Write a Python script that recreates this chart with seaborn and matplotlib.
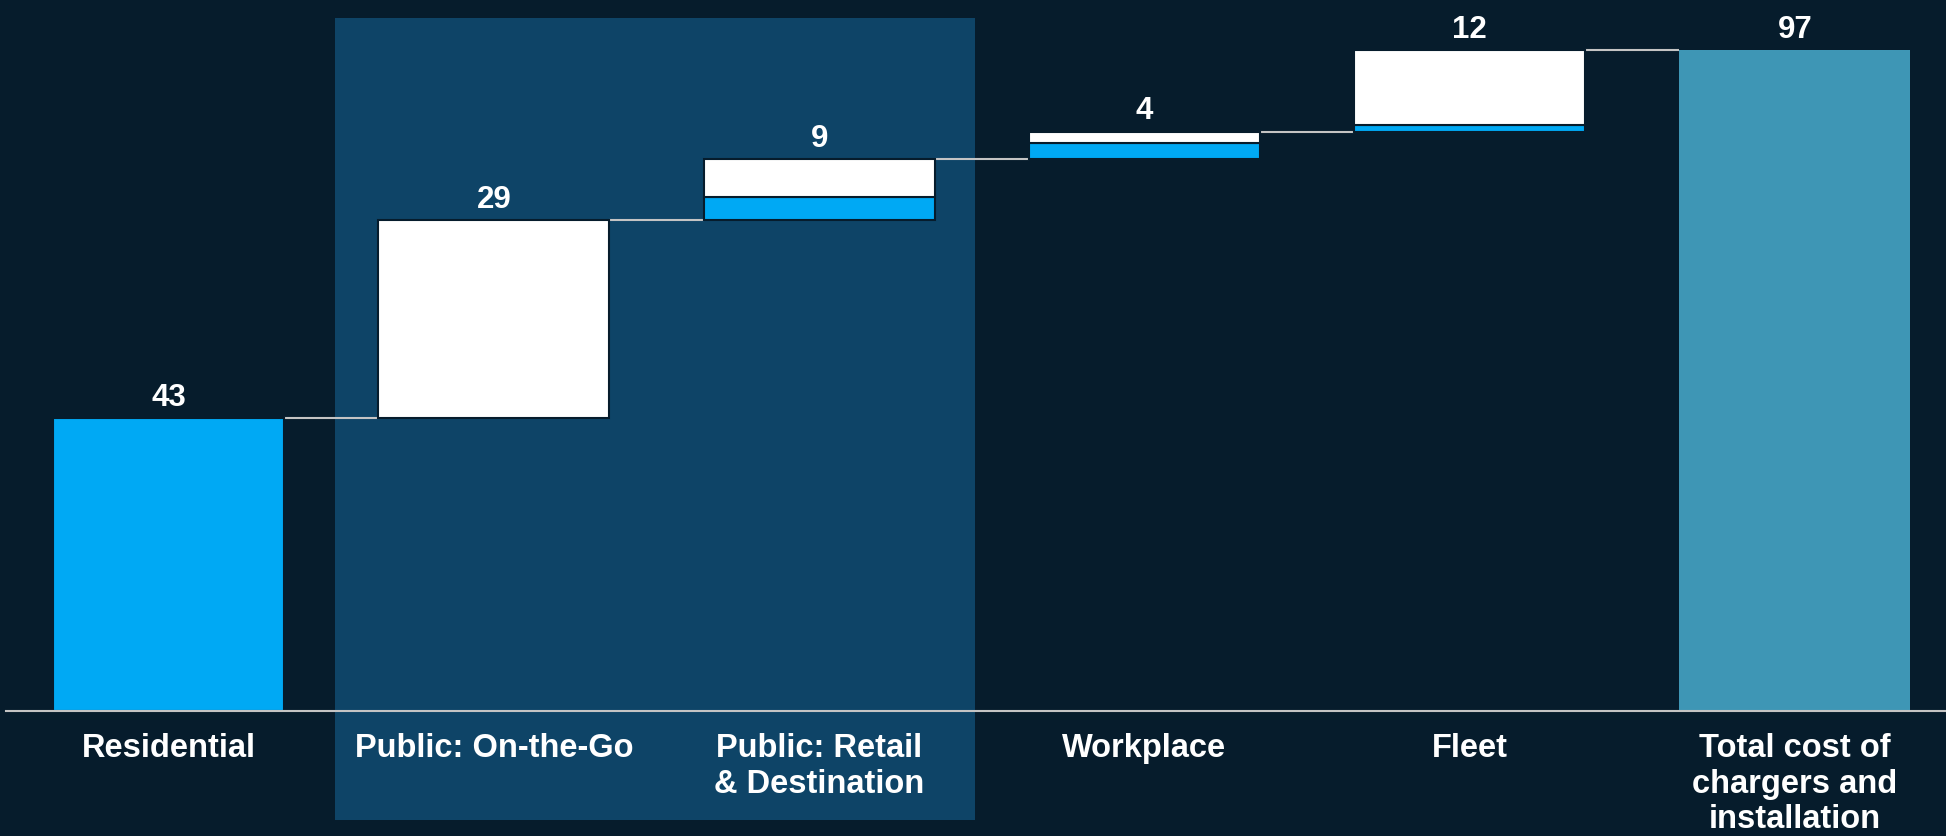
import matplotlib.pyplot as plt
import numpy as np
import pandas as pd
import seaborn as sns

categories = [
    "Residential",
    "Public: On-the-Go",
    "Public: Retail\n& Destination",
    "Workplace",
    "Fleet",
    "Total cost of\nchargers and\ninstallation",
]
step_values = [43, 29, 9, 4, 12]
blue_part = [43, 0, 3.4, 2.3, 1]
white_part = [0, 29, 5.6, 1.7, 11]
total_value = 97

BG = "#061c2c"
HIGHLIGHT = "#0e4467"
BLUE = "#00a9f4"
TEAL = "#3e96b5"
LINE = "#c4c4c4"
BAR_WIDTH = 0.71

sns.set_theme(style="white")
plt.rcParams["font.family"] = ["Liberation Sans", "DejaVu Sans"]

# cumulative levels for the waterfall
ends = np.cumsum(step_values)
starts = ends - np.array(step_values)

steps = pd.DataFrame({
    "category": categories[:-1],
    "blue": blue_part,
    "white": white_part,
    "start": starts,
    "end": ends,
})
steps["white_bottom"] = steps["start"] + steps["blue"]

fig = plt.figure(figsize=(19.46, 8.37), dpi=100, facecolor=BG)
ax = fig.add_axes([6 / 1946, 125 / 837, 1940 / 1946, 712 / 837])
ax.set_facecolor(BG)

blue_rows = steps[steps["blue"] > 0]
sns.barplot(data=blue_rows, x="category", y="blue", order=categories, bottom=blue_rows["start"].values,
            color=BLUE, saturation=1, width=BAR_WIDTH, edgecolor=BG, linewidth=1.5, ax=ax, zorder=3)
white_rows = steps[steps["white"] > 0]
sns.barplot(data=white_rows, x="category", y="white", order=categories, bottom=white_rows["white_bottom"].values,
            color="white", saturation=1, width=BAR_WIDTH, edgecolor=BG, linewidth=1.5, ax=ax, zorder=3)
total_df = pd.DataFrame({"category": [categories[-1]], "value": [total_value]})
sns.barplot(data=total_df, x="category", y="value", order=categories,
            color=TEAL, saturation=1, width=BAR_WIDTH, linewidth=0, ax=ax, zorder=3)

# highlighted "public" block
ax.axvspan(0.512, 2.478, ymin=-0.153, ymax=0.973, color=HIGHLIGHT, lw=0, zorder=0, clip_on=False)

# connectors
for i, lvl in enumerate(ends):
    ax.hlines(lvl, i + BAR_WIDTH / 2, i + 1 - BAR_WIDTH / 2, color=LINE, lw=1.5, zorder=2)

# value labels
tops = list(ends) + [total_value]
labels = step_values + [total_value]
for i, (top, val) in enumerate(zip(tops, labels)):
    ax.annotate(f"{val}", (i, top), xytext=(0, 4.5), textcoords="offset points",
                ha="center", va="bottom", color="white", fontsize=22.5, fontweight="bold")

ax.set_xlim(-0.5, 5.465)
ax.set_ylim(0, 104.45)
ax.set_xticks(range(len(categories)))
ax.set_xticklabels(categories, color="white", fontsize=23.5, fontweight="bold", linespacing=1.2)
ax.tick_params(axis="x", length=0, pad=15)
ax.set_yticks([])
ax.set_xlabel("")
ax.set_ylabel("")
for side in ["top", "right", "left"]:
    ax.spines[side].set_visible(False)
ax.spines["bottom"].set_color(LINE)
ax.spines["bottom"].set_linewidth(1.5)
ax.spines["bottom"].set_zorder(4)

fig.savefig("out.png", dpi=100, facecolor=BG)
